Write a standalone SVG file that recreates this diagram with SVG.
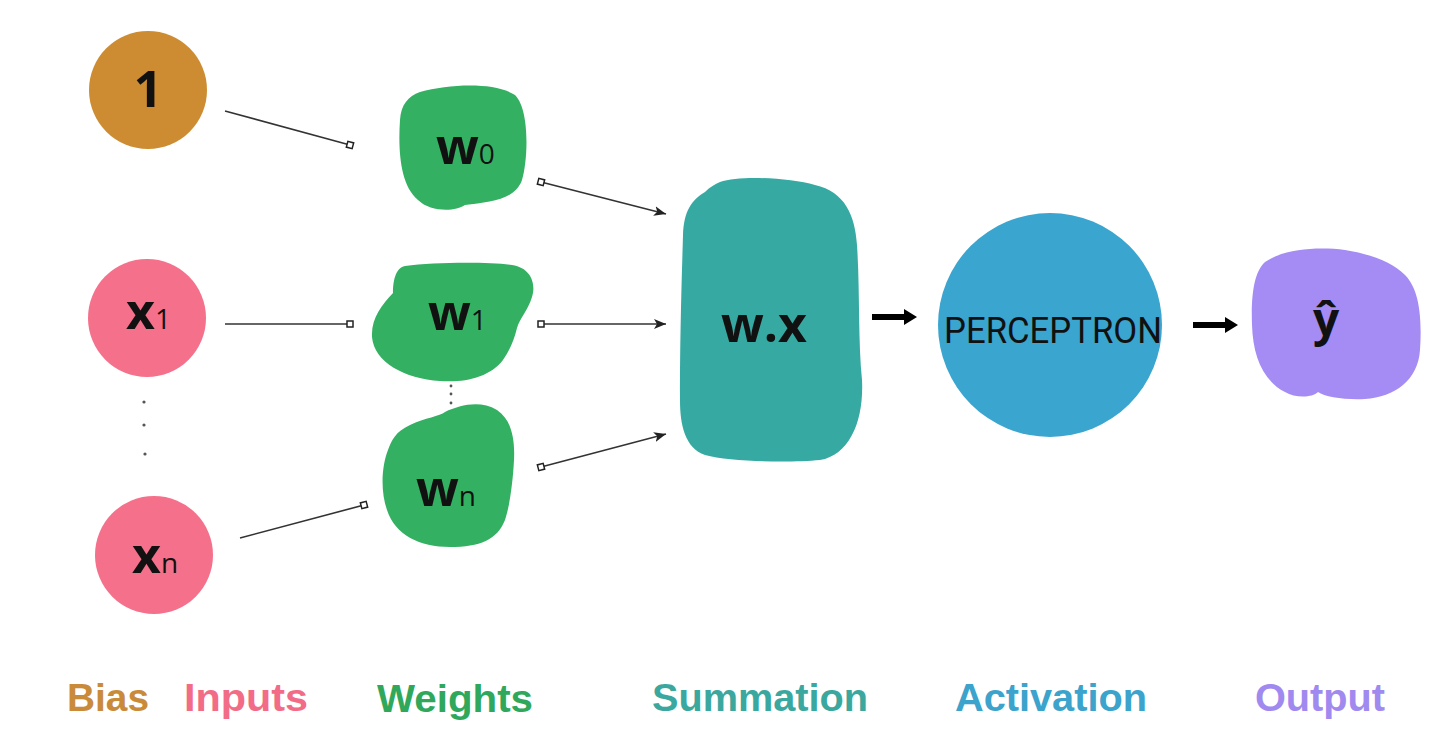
<svg xmlns="http://www.w3.org/2000/svg" width="1442" height="750" viewBox="0 0 1442 750">
<style>
.nt{font-family:"Open Sans","Liberation Sans",sans-serif;font-weight:700;fill:#111}
.sub{font-family:"Open Sans","Liberation Sans",sans-serif;font-weight:400;fill:#111}
.lbl{font-family:"Liberation Sans",Arial,sans-serif;font-weight:700;font-size:39px}
.thin{stroke:#333;stroke-width:1.6;fill:none}
.dot{fill:#555}
</style>
<defs>
<marker id="sq" markerUnits="userSpaceOnUse" markerWidth="10" markerHeight="10" refX="5" refY="5" orient="auto">
<rect x="2" y="2" width="6" height="6" fill="#fff" stroke="#222" stroke-width="1.5"/>
</marker>
<marker id="ah" markerUnits="userSpaceOnUse" markerWidth="14" markerHeight="12" refX="12" refY="6" orient="auto">
<path d="M0,1 L12,6 L0,11 L3,6 Z" fill="#222"/>
</marker>
</defs>
<rect width="1442" height="750" fill="#fff"/>

<g id="bias">
<circle cx="148" cy="90" r="59" fill="#CD8C32"/>
<text class="nt" x="148" y="107" font-size="50" text-anchor="middle">1</text>
</g>
<g id="x1">
<circle cx="147" cy="318" r="59" fill="#F5708A"/>
<text x="126" y="329"><tspan class="nt" font-size="50">x</tspan><tspan class="sub" font-size="28">1</tspan></text>
</g>
<g id="input-dots">
<circle class="dot" cx="144" cy="402" r="1.6"/>
<circle class="dot" cx="144" cy="425" r="1.6"/>
<circle class="dot" cx="145" cy="454" r="1.6"/>
</g>
<g id="xn">
<circle cx="154" cy="555" r="59" fill="#F5708A"/>
<text x="132" y="573"><tspan class="nt" font-size="50">x</tspan><tspan class="sub" font-size="28">n</tspan></text>
</g>

<g id="w0">
<path d="M420,92 C450,84 495,82 515,95 C530,110 528,160 522,180 C515,200 490,202 465,205 C455,212 430,212 418,200 C400,185 398,150 400,120 C401,105 408,96 420,92 Z" fill="#34B062"/>
<text x="436" y="164"><tspan class="nt" font-size="50">w</tspan><tspan class="sub" font-size="28">0</tspan></text>
</g>
<g id="w1">
<path d="M405,266 C435,262 490,262 512,265 C532,268 536,285 532,297 C528,310 520,318 517,328 C514,340 510,350 503,360 C490,377 465,383 440,381 C405,379 374,362 372,337 C371,318 382,305 393,293 C393,282 395,268 405,266 Z" fill="#34B062"/>
<text x="428" y="330"><tspan class="nt" font-size="50">w</tspan><tspan class="sub" font-size="28">1</tspan></text>
</g>
<g id="weight-dots">
<circle class="dot" cx="451" cy="386" r="1.4"/>
<circle class="dot" cx="451" cy="394" r="1.4"/>
<circle class="dot" cx="451" cy="403" r="1.4"/>
</g>
<g id="wn">
<path d="M445,412 C460,405 480,400 497,410 C512,420 515,440 514,460 C513,480 510,505 505,520 C497,540 480,547 450,547 C420,547 395,535 387,510 C380,490 382,465 388,450 C392,440 395,432 410,425 C425,418 440,416 445,412 Z" fill="#34B062"/>
<text x="416" y="506"><tspan class="nt" font-size="50">w</tspan><tspan class="sub" font-size="28">n</tspan></text>
</g>

<g id="summation">
<path d="M720,182 C740,175 790,178 815,185 C845,192 855,215 857,245 C860,290 858,340 862,380 C864,420 850,455 820,460 C790,463 730,462 705,455 C685,448 680,425 680,400 C680,330 682,270 683,235 C684,210 692,200 705,192 C710,187 715,184 720,182 Z" fill="#36AAA2"/>
<text class="nt" x="764" y="342" font-size="50" text-anchor="middle">w.x</text>
</g>
<g id="perceptron">
<circle cx="1050" cy="325" r="112" fill="#3AA5CF"/>
<text x="944" y="343" font-family="Roboto,'Liberation Sans',sans-serif" font-size="37" fill="#111" textLength="218" lengthAdjust="spacingAndGlyphs">PERCEPTRON</text>
</g>
<g id="output">
<path d="M1265,262 C1285,248 1320,247 1345,250 C1370,254 1392,262 1405,275 C1420,290 1422,320 1420,350 C1418,380 1395,397 1365,399 C1345,400 1325,397 1318,392 C1312,398 1295,398 1285,392 C1262,380 1253,355 1252,325 C1251,295 1254,272 1265,262 Z" fill="#A48CF4"/>
<text class="nt" x="1326" y="336" font-size="46" text-anchor="middle">ŷ</text>
</g>

<g id="connectors">
<line class="thin" x1="225" y1="111" x2="350" y2="145" marker-end="url(#sq)"/>
<line class="thin" x1="225" y1="324" x2="350" y2="324" marker-end="url(#sq)"/>
<line class="thin" x1="240" y1="538" x2="364" y2="505" marker-end="url(#sq)"/>
<line class="thin" x1="541" y1="182" x2="666" y2="214" marker-start="url(#sq)" marker-end="url(#ah)"/>
<line class="thin" x1="541" y1="324" x2="666" y2="324" marker-start="url(#sq)" marker-end="url(#ah)"/>
<line class="thin" x1="541" y1="467" x2="666" y2="434" marker-start="url(#sq)" marker-end="url(#ah)"/>
<path d="M872,314 H904 V309 L917,317 L904,325 V320 H872 Z" fill="#000"/>
<path d="M1193,322 H1225 V317 L1238,325 L1225,333 V328 H1193 Z" fill="#000"/>
</g>

<g id="labels">
<text class="lbl" x="67" y="711" fill="#C98A3A" textLength="82" lengthAdjust="spacingAndGlyphs">Bias</text>
<text class="lbl" x="184" y="711" fill="#F26C87" textLength="124" lengthAdjust="spacingAndGlyphs">Inputs</text>
<text class="lbl" x="377" y="712" fill="#2FA85C" textLength="156" lengthAdjust="spacingAndGlyphs">Weights</text>
<text class="lbl" x="652" y="711" fill="#3AA89F" textLength="216" lengthAdjust="spacingAndGlyphs">Summation</text>
<text class="lbl" x="955" y="711" fill="#3BA3CC" textLength="192" lengthAdjust="spacingAndGlyphs">Activation</text>
<text class="lbl" x="1255" y="711" fill="#A08AF0" textLength="130" lengthAdjust="spacingAndGlyphs">Output</text>
</g>
</svg>
